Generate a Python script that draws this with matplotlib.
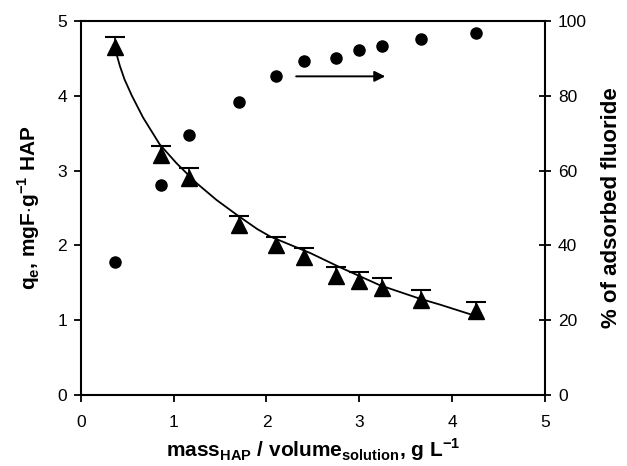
import numpy as np
import matplotlib
matplotlib.use("Agg")
import matplotlib.pyplot as plt

plt.rcParams['font.family'] = ['Liberation Sans', 'DejaVu Sans']
plt.rcParams['mathtext.fontset'] = 'custom'
plt.rcParams['mathtext.rm'] = 'Liberation Sans:bold'
plt.rcParams['mathtext.bf'] = 'Liberation Sans:bold'

# measured points
dose = [0.37, 0.86, 1.16, 1.70, 2.10, 2.40, 2.75, 3.00, 3.24, 3.66, 4.26]
qe = [4.65, 3.21, 2.90, 2.27, 2.00, 1.85, 1.59, 1.52, 1.43, 1.27, 1.12]
qe_err = [0.13, 0.12, 0.13, 0.12, 0.12, 0.12, 0.12, 0.12, 0.13, 0.13, 0.13]
adsorbed = [35.6, 56.1, 69.5, 78.3, 85.3, 89.3, 90.1, 92.2, 93.3, 95.2, 96.8]

# model curve
fit_x = [0.37, 0.42, 0.47, 0.55, 0.67, 0.85, 1.03, 1.25, 1.46, 1.68, 1.90,
         2.04, 2.47, 2.79, 3.22, 3.65, 3.87, 4.25]
fit_y = [4.62, 4.40, 4.22, 4.00, 3.71, 3.35, 3.10, 2.83, 2.61, 2.41, 2.22,
         2.12, 1.90, 1.71, 1.47, 1.29, 1.21, 1.06]

# arrow pointing to right axis
arrow_x = [2.32, 3.28]
arrow_y = 4.26

fig = plt.figure(figsize=(6.27, 4.66), dpi=100)
ax = fig.add_axes([0.129, 0.152, 0.740, 0.803])

ax.plot(fit_x, fit_y, color='black', lw=1.3, zorder=2)
top = np.array(qe) + np.array(qe_err)
ax.vlines(dose, qe, top, color='black', lw=1.2, zorder=2)
ax.plot(dose, top, ls='none', marker='_', ms=14, mew=1.5, color='black', zorder=2)
ax.plot(dose, qe, ls='none', marker='^', ms=11, color='black', zorder=3)

ax.annotate('', xy=(arrow_x[1], arrow_y), xytext=(arrow_x[0], arrow_y),
            arrowprops=dict(arrowstyle='-|>', color='black', lw=1.4,
                            mutation_scale=16, shrinkA=0, shrinkB=0))

ax.set_xlim(0, 5)
ax.set_ylim(0, 5)
ax.set_xticks(range(6))
ax.set_yticks(range(6))
ax.tick_params(axis='both', direction='out', length=5, width=1.3, labelsize=12.5)
ax.tick_params(axis='x', pad=9)
ax.tick_params(axis='y', pad=5)
ax.spines['right'].set_visible(False)
for s in ['left', 'bottom', 'top']:
    ax.spines[s].set_linewidth(1.5)

ax.set_xlabel(r'mass$_{\mathrm{HAP}}$ / volume$_{\mathrm{solution}}$, g L$^{\mathrm{-1}}$',
              fontsize=15, fontweight='bold', labelpad=5)
ax.set_ylabel(r'q$_{\mathrm{e}}$, mgF$\cdot$g$^{\mathrm{-1}}$ HAP',
              fontsize=15, fontweight='bold', labelpad=11)

ax2 = ax.twinx()
ax2.plot(dose, adsorbed, ls='none', marker='o', ms=8, color='black')
ax2.set_ylim(0, 100)
ax2.set_yticks(range(0, 101, 20))
ax2.tick_params(direction='inout', length=9, width=1.3, labelsize=12.5, pad=5)
for s in ['left', 'bottom', 'top']:
    ax2.spines[s].set_visible(False)
ax2.spines['right'].set_linewidth(1.5)
ax2.set_ylabel('% of adsorbed fluoride', fontsize=16, fontweight='bold', labelpad=10)

fig.savefig('out.png', dpi=100)
